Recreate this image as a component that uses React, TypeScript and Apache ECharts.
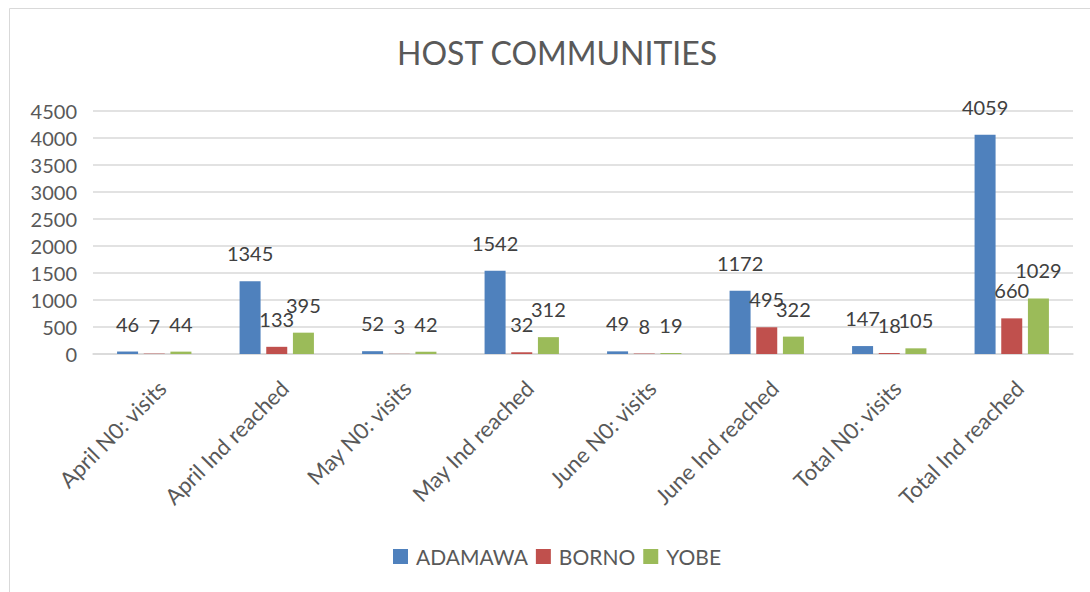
import React, { useEffect, useRef } from "react";
import * as echarts from "echarts";

const categories = [
  "April N0: visits",
  "April Ind reached",
  "May N0: visits",
  "May Ind reached",
  "June N0: visits",
  "June Ind reached",
  "Total N0: visits",
  "Total Ind reached",
];
const adamawa = [46, 1345, 52, 1542, 49, 1172, 147, 4059];
const borno = [7, 133, 3, 32, 8, 495, 18, 660];
const yobe = [44, 395, 42, 312, 19, 322, 105, 1029];
const seriesNames = ["ADAMAWA", "BORNO", "YOBE"];
const colors = ["#4f81bd", "#c0504d", "#9bbb59"];
const title = "HOST COMMUNITIES";

const FONT = "Lato, 'Open Sans', sans-serif";

export default function App() {
  const ref = useRef<HTMLDivElement>(null);
  useEffect(() => {
    document.body.style.margin = "0";
    const chart = echarts.init(ref.current!, null, { renderer: "svg" });
    const data = [adamawa, borno, yobe];
    chart.setOption({
      animation: false,
      backgroundColor: "#ffffff",
      textStyle: { fontFamily: FONT },
      title: {
        text: title,
        left: 392,
        top: 31,
        textStyle: { fontFamily: FONT, fontSize: 32, fontWeight: "normal", color: "#595959" },
      },
      graphic: [
        {
          type: "rect",
          shape: { x: 9.5, y: 8.5, width: 1200, height: 700 },
          style: { fill: "none", stroke: "#d9d9d9", lineWidth: 1 },
          silent: true,
          z: -1,
        },
      ],
      legend: {
        data: seriesNames,
        top: 541,
        left: 388,
        itemWidth: 15,
        itemHeight: 15,
        itemGap: 8,
        icon: "rect",
        textStyle: { fontFamily: FONT, fontSize: 21, color: "#595959", padding: [0, 0, 0, 3] },
      },
      grid: { left: 93, right: 17, top: 111, bottom: 238, containLabel: false },
      xAxis: {
        type: "category",
        data: categories,
        axisLine: { lineStyle: { color: "#d9d9d9", width: 1.5 } },
        axisTick: { show: false },
        axisLabel: {
          rotate: 45,
          interval: 0,
          margin: 38,
          padding: [0, -11, 0, 0],
          fontFamily: FONT,
          fontSize: 22,
          color: "#595959",
        },
      },
      yAxis: {
        type: "value",
        min: 0,
        max: 4500,
        interval: 500,
        axisLine: { show: false },
        axisTick: { show: false },
        splitLine: { lineStyle: { color: "#d9d9d9", width: 1.5 } },
        axisLabel: {
          fontFamily: FONT,
          fontSize: 20,
          color: "#595959",
          margin: 16,
          formatter: (v: number) => String(v),
        },
      },
      series: seriesNames.map((name, i) => ({
        name,
        type: "bar",
        data: data[i],
        barWidth: 21,
        barGap: "27%",
        itemStyle: { color: colors[i] },
        label: {
          show: true,
          position: "top",
          distance: 18,
          fontFamily: FONT,
          fontSize: 20,
          color: "#404040",
        },
      })),
    });
    return () => chart.dispose();
  }, []);
  return <div ref={ref} style={{ width: 1090, height: 592 }} />;
}
